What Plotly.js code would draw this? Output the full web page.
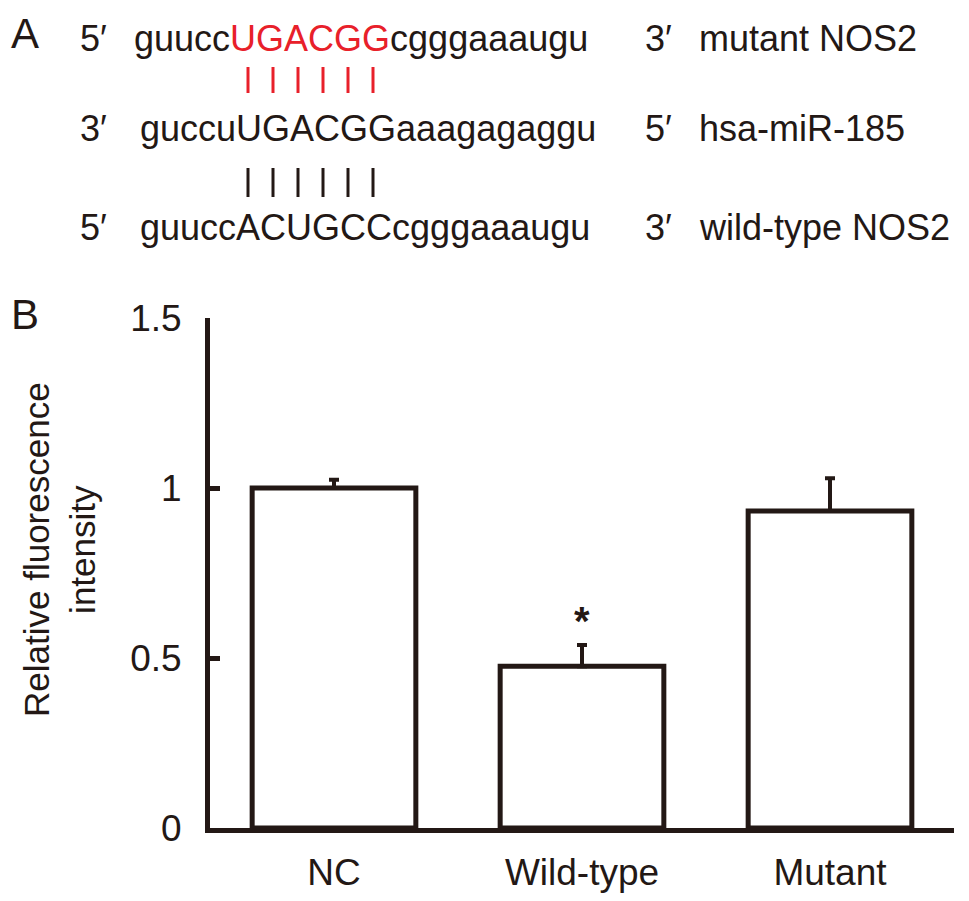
<!DOCTYPE html>
<html>
<head>
<meta charset="utf-8">
<script src="https://cdn.plot.ly/plotly-3.0.1.min.js"></script>
<style>
  body { margin: 0; background: #fff; }
  #chart { width: 969px; height: 901px; }
</style>
</head>
<body>
<div id="chart"></div>
<script>
// panel B values
var groups = ['NC', 'Wild-type', 'Mutant'];
var intensity = [1.0, 0.476, 0.932];
var errUp = [0.024, 0.062, 0.097];
var stars = ['', '*', ''];
var yTicks = [0, 0.5, 1, 1.5];
var yTickText = ['0', '0.5', '1', '1.5'];

// panel A sequences
var leftEnds = ['5′', '3′', '5′'];
var seqHead = ['guucc', 'guccu', 'guucc'];
var seqSite = ['UGACGG', 'UGACGG', 'ACUGCC'];
var seqTail = ['cgggaaaugu', 'aaagagaggu', 'cgggaaaugu'];
var rightEnds = ['3′', '5′', '3′'];
var seqNames = ['mutant NOS2', 'hsa-miR-185', 'wild-type NOS2'];
var siteColor = ['#e8202a', '#231815', '#231815'];

var ink = '#231815';
var font = 'Liberation Sans, Arial, Helvetica, sans-serif';

// page pixels -> paper coordinates (plot area 210..954 x 318..828)
function px(x) { return (x - 210) / 744; }
function py(y) { return (828 - y) / 510; }

var annotations = [];
var shapes = [];

function txt(x, y, s, size) {
  annotations.push({
    xref: 'paper', yref: 'paper', x: px(x), y: py(y),
    text: s, showarrow: false, xanchor: 'left', yanchor: 'middle',
    font: { family: font, size: size || 36, color: ink }
  });
}

// panel letters
txt(9, 33, 'A', 42);
txt(9, 314, 'B', 42);

// sequence rows
var rowY = [38, 128, 227];
var seqX = [132, 138, 138];
for (var i = 0; i < 3; i++) {
  txt(78, rowY[i], leftEnds[i]);
  txt(seqX[i], rowY[i], seqHead[i] + '<span style="color:' + siteColor[i] + '">' +
      seqSite[i] + '</span>' + seqTail[i]);
  txt(643, rowY[i], rightEnds[i]);
  txt(697, rowY[i], seqNames[i]);
}

// base-pair ticks
for (var j = 0; j < 6; j++) {
  var bx = px(248 + 25 * j);
  shapes.push({ type: 'line', xref: 'paper', yref: 'paper', x0: bx, x1: bx,
    y0: py(67), y1: py(93), line: { color: '#e8202a', width: 3 } });
  shapes.push({ type: 'line', xref: 'paper', yref: 'paper', x0: bx, x1: bx,
    y0: py(168), y1: py(197), line: { color: ink, width: 3 } });
}

// y title
annotations.push({
  xref: 'paper', yref: 'paper', x: px(59), y: py(550),
  text: 'Relative fluorescence<br>intensity', textangle: -90,
  showarrow: false, xanchor: 'center', yanchor: 'middle',
  font: { family: font, size: 35, color: ink }
});

// significance stars
for (var k = 0; k < groups.length; k++) {
  if (!stars[k]) continue;
  annotations.push({
    x: groups[k], y: intensity[k] + errUp[k], xref: 'x', yref: 'y',
    text: '<b>' + stars[k] + '</b>', showarrow: false, yanchor: 'bottom', yshift: 0,
    font: { family: font, size: 40, color: ink }
  });
}

var data = [
  {
    type: 'bar',
    x: groups,
    y: intensity,
    width: 0.66,
    marker: { color: '#ffffff', line: { color: ink, width: 5 } },
    error_y: {
      type: 'data', symmetric: false, array: errUp, arrayminus: [0, 0, 0],
      color: ink, thickness: 4, width: 5
    },
    hoverinfo: 'none'
  }
];

var layout = {
  width: 969,
  height: 901,
  margin: { l: 210, r: 15, t: 318, b: 73 },
  paper_bgcolor: '#ffffff',
  plot_bgcolor: '#ffffff',
  showlegend: false,
  font: { family: font, size: 37, color: ink },
  xaxis: {
    range: [-0.5, 2.5],
    showline: true, linecolor: ink, linewidth: 5,
    ticks: '', showgrid: false, zeroline: false,
    tickfont: { family: font, size: 37, color: ink },
    ticklabelstandoff: 8
  },
  yaxis: {
    range: [0, 1.5],
    tickvals: yTicks, ticktext: yTickText,
    ticks: 'inside', ticklen: 10, tickwidth: 5, tickcolor: ink,
    showline: true, linecolor: ink, linewidth: 5,
    showgrid: false, zeroline: false,
    tickfont: { family: font, size: 37, color: ink },
    ticklabelstandoff: 16
  },
  annotations: annotations,
  shapes: shapes
};

Plotly.newPlot('chart', data, layout, { displayModeBar: false, staticPlot: true });
</script>
</body>
</html>
